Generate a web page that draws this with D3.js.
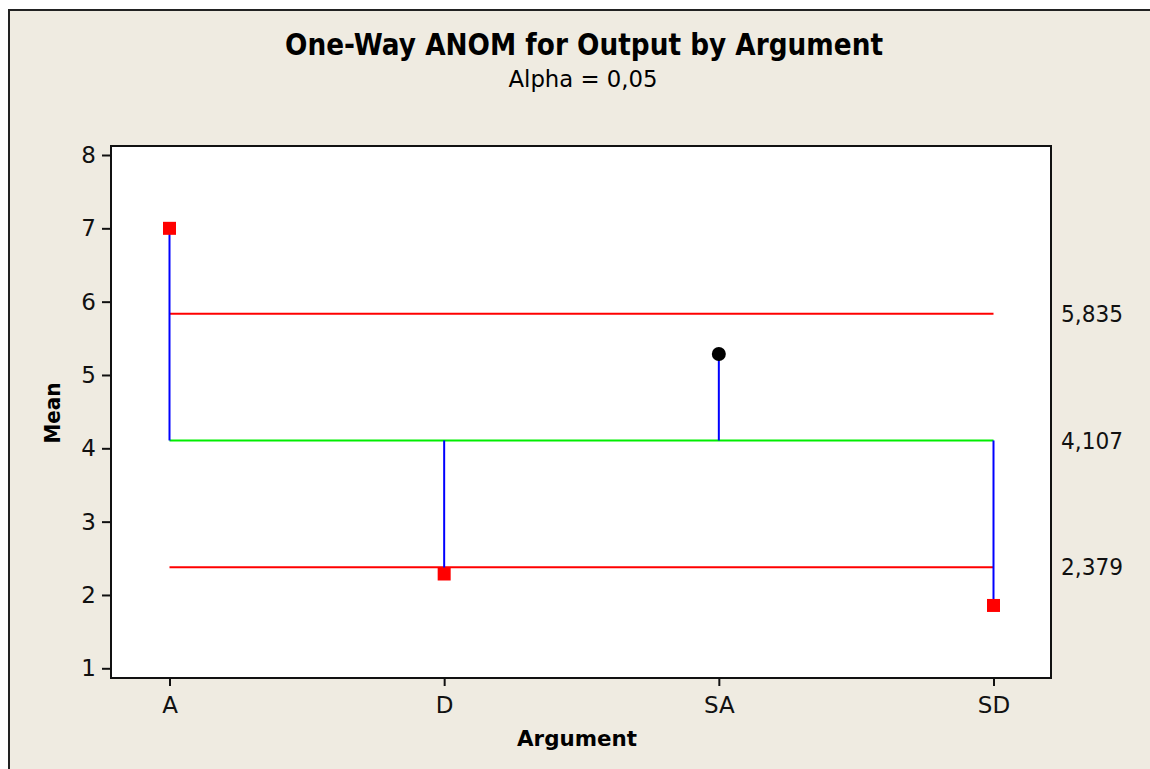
<!DOCTYPE html>
<html>
<head>
<meta charset="utf-8">
<script src="https://cdn.jsdelivr.net/npm/d3@7"></script>
<style>
  html, body { margin: 0; padding: 0; background: #fff; }
  svg { display: block; font-family: "DejaVu Sans", Verdana, sans-serif; }
</style>
</head>
<body>
<div id="chart"></div>
<script>
// data
const groups = ["A", "D", "SA", "SD"];
const means = [7.0, 2.286, 5.286, 1.857];
const centerLine = 4.107;
const decisionLimits = [5.835, 2.379];
const yTicks = [1, 2, 3, 4, 5, 6, 7, 8];

const width = 1150;
const height = 769;
const plot = { left: 111, top: 146, right: 1051, bottom: 678 };

const svg = d3.select("#chart").append("svg")
  .attr("width", width)
  .attr("height", height);

// outer panel
svg.append("rect")
  .attr("x", 9).attr("y", 10)
  .attr("width", width + 20).attr("height", height + 20)
  .attr("fill", "#efebe1")
  .attr("stroke", "#222")
  .attr("stroke-width", 2);

// plot background
svg.append("rect")
  .attr("x", plot.left).attr("y", plot.top)
  .attr("width", plot.right - plot.left)
  .attr("height", plot.bottom - plot.top)
  .attr("fill", "#fff");

// scales
const x = d3.scalePoint()
  .domain(groups)
  .range([169.5, 993.5]);

const y = d3.scaleLinear()
  .domain([1, 8])
  .range([668.3, 155]);

// limit lines
const xStart = x(groups[0]);
const xEnd = x(groups[groups.length - 1]);

decisionLimits.forEach(v => {
  svg.append("line")
    .attr("x1", xStart).attr("x2", xEnd)
    .attr("y1", y(v)).attr("y2", y(v))
    .attr("stroke", "#ff0000")
    .attr("stroke-width", 2);
});

svg.append("line")
  .attr("x1", xStart).attr("x2", xEnd)
  .attr("y1", y(centerLine)).attr("y2", y(centerLine))
  .attr("stroke", "#00ee00")
  .attr("stroke-width", 2);

// stems from center line to means
svg.selectAll("line.stem")
  .data(groups)
  .enter()
  .append("line")
  .attr("class", "stem")
  .attr("x1", d => x(d)).attr("x2", d => x(d))
  .attr("y1", y(centerLine))
  .attr("y2", (d, i) => y(means[i]))
  .attr("stroke", "#0000ff")
  .attr("stroke-width", 2);

// points: red squares outside limits, black dots inside
const outside = v => v > decisionLimits[0] || v < decisionLimits[1];
const sq = 13;

groups.forEach((g, i) => {
  const v = means[i];
  if (outside(v)) {
    svg.append("rect")
      .attr("x", x(g) - sq / 2)
      .attr("y", y(v) - sq / 2)
      .attr("width", sq).attr("height", sq)
      .attr("fill", "#ff0000");
  } else {
    svg.append("circle")
      .attr("cx", x(g)).attr("cy", y(v))
      .attr("r", 7)
      .attr("fill", "#000");
  }
});

// frame
svg.append("rect")
  .attr("x", plot.left).attr("y", plot.top)
  .attr("width", plot.right - plot.left)
  .attr("height", plot.bottom - plot.top)
  .attr("fill", "none")
  .attr("stroke", "#111")
  .attr("stroke-width", 2);

// axes
const yAxis = svg.append("g")
  .attr("transform", `translate(${plot.left},0)`)
  .call(d3.axisLeft(y).tickValues(yTicks).tickSize(9).tickPadding(6).tickFormat(d3.format("d")));

const xAxis = svg.append("g")
  .attr("transform", `translate(0,${plot.bottom})`)
  .call(d3.axisBottom(x).tickSize(8).tickPadding(11));

[yAxis, xAxis].forEach(ax => {
  ax.select(".domain").remove();
  ax.selectAll("line").attr("stroke", "#111").attr("stroke-width", 2);
  ax.selectAll("text")
    .attr("fill", "#111")
    .style("font-size", "23px")
    .style("font-family", "'DejaVu Sans', Verdana, sans-serif");
});

// right side limit labels
const limitLabels = [decisionLimits[0], centerLine, decisionLimits[1]];
svg.selectAll("text.limit")
  .data(limitLabels)
  .enter()
  .append("text")
  .attr("class", "limit")
  .attr("x", 1061)
  .attr("y", d => y(d))
  .attr("dy", "0.36em")
  .attr("fill", "#111")
  .attr("textLength", 62)
  .attr("lengthAdjust", "spacingAndGlyphs")
  .style("font-size", "23px")
  .text(d => d3.format(".3f")(d).replace(".", ","));

// titles
svg.append("text")
  .attr("x", 584).attr("y", 55)
  .attr("text-anchor", "middle")
  .attr("textLength", 598)
  .attr("lengthAdjust", "spacingAndGlyphs")
  .style("font-size", "30px")
  .style("font-weight", "bold")
  .attr("fill", "#000")
  .text("One-Way ANOM for Output by Argument");

svg.append("text")
  .attr("x", 583).attr("y", 87)
  .attr("text-anchor", "middle")
  .attr("textLength", 149)
  .attr("lengthAdjust", "spacingAndGlyphs")
  .style("font-size", "23px")
  .attr("fill", "#000")
  .text("Alpha = 0,05");

svg.append("text")
  .attr("x", 577).attr("y", 746)
  .attr("text-anchor", "middle")
  .attr("textLength", 120)
  .attr("lengthAdjust", "spacingAndGlyphs")
  .style("font-size", "22px")
  .style("font-weight", "bold")
  .attr("fill", "#000")
  .text("Argument");

svg.append("text")
  .attr("transform", "translate(60,413) rotate(-90)")
  .attr("text-anchor", "middle")
  .attr("textLength", 61)
  .attr("lengthAdjust", "spacingAndGlyphs")
  .style("font-size", "22px")
  .style("font-weight", "bold")
  .attr("fill", "#000")
  .text("Mean");
</script>
</body>
</html>
